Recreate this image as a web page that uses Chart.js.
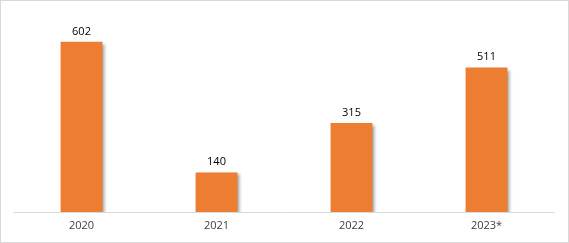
<!DOCTYPE html>
<html>
<head>
<meta charset="utf-8">
<script src="https://cdn.jsdelivr.net/npm/chart.js@4/dist/chart.umd.min.js"></script>
<style>
  body { margin: 0; background: #fff; }
  #box { position: absolute; left: 0; top: 0; width: 567px; height: 241px; border: 1px solid #d9d9d9; }
  canvas { display: block; }
</style>
</head>
<body>
<div id="box"><canvas id="chart" width="567" height="241"></canvas></div>
<script>
var years = ["2020", "2021", "2022", "2023*"];
var values = [602, 140, 315, 511];

// shadow behind the bars
var barShadow = {
  id: "barShadow",
  beforeDatasetsDraw: function (chart) {
    var ctx = chart.ctx;
    ctx.save();
    ctx.shadowColor = "rgba(0,0,0,0.35)";
    ctx.shadowBlur = 3;
    ctx.shadowOffsetX = 3;
    ctx.shadowOffsetY = 2;
  },
  afterDatasetsDraw: function (chart) {
    chart.ctx.restore();
  },
};

// value labels above bars
var valueLabels = {
  id: "valueLabels",
  afterDraw: function (chart) {
    var ctx = chart.ctx;
    var meta = chart.getDatasetMeta(0);
    ctx.save();
    ctx.font = "11px 'Open Sans', sans-serif";
    ctx.fillStyle = "#000";
    ctx.textAlign = "center";
    ctx.textBaseline = "bottom";
    meta.data.forEach(function (bar, i) {
      ctx.fillText(values[i], bar.x, bar.y - 5);
    });
    ctx.restore();
  },
};

var ctx = document.getElementById("chart").getContext("2d");
new Chart(ctx, {
  type: "bar",
  data: {
    labels: years,
    datasets: [
      {
        data: values,
        backgroundColor: "#ed7d31",
        borderWidth: 0,
        categoryPercentage: 1,
        barPercentage: 0.31,
      },
    ],
  },
  options: {
    responsive: false,
    animation: false,
    layout: { padding: { left: 13, right: 14, top: 16, bottom: 0 } },
    plugins: { legend: { display: false }, tooltip: { enabled: false } },
    scales: {
      x: {
        grid: { display: false, drawTicks: false },
        border: { display: true, color: "#d9d9d9" },
        ticks: { color: "#404040", font: { family: "'Open Sans', sans-serif", size: 11 }, padding: 7 },
        afterFit: function (scale) {
          scale.height = 30;
        },
      },
      y: { display: false, min: 0, max: 690 },
    },
  },
  plugins: [barShadow, valueLabels],
});
</script>
</body>
</html>
